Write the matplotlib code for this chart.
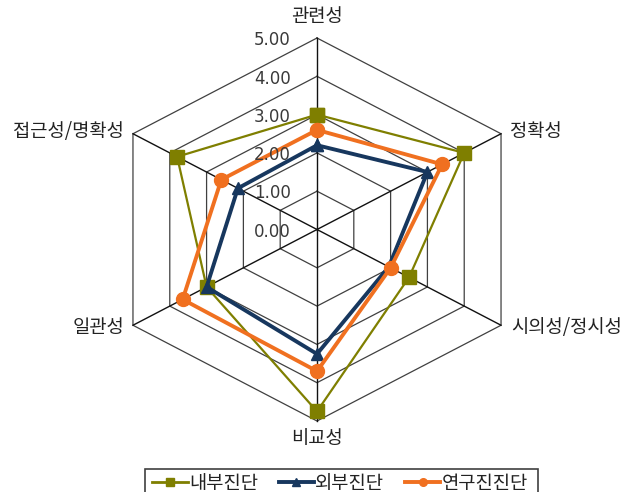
import numpy as np
import matplotlib
matplotlib.use("Agg")
import matplotlib.pyplot as plt
from matplotlib.lines import Line2D
from matplotlib.patches import Rectangle

plt.rcParams['font.family'] = ['Noto Sans CJK KR', 'DejaVu Sans']

categories = ['관련성', '정확성', '시의성/정시성', '비교성', '일관성', '접근성/명확성']
series_names = ['내부진단', '외부진단', '연구진진단']
internal = [3.0, 4.0, 2.5, 4.75, 3.0, 3.8]
external = [2.2, 3.0, 1.95, 3.25, 3.0, 2.15]
research = [2.6, 3.4, 2.0, 3.7, 3.65, 2.6]
tick_values = [0, 1, 2, 3, 4, 5]
tick_labels = ['0.00', '1.00', '2.00', '3.00', '4.00', '5.00']

colors = ['#7F7F00', '#17375E', '#F07020']
markers = ['s', '^', 'o']
msizes = [10.0, 9.0, 10.0]
lws = [1.6, 2.8, 2.8]

W, H = 625, 492
fig = plt.figure(figsize=(W / 100, H / 100), dpi=100)
ax = fig.add_axes([0, 0, 1, 1])
cx, cy = 317, 229.5
ux = 212.5 / 5   # px per unit horizontally
uy = 191.5 / 5   # px per unit vertically
ax.set_xlim(-cx / ux, (W - cx) / ux)
ax.set_ylim(-(H - cy) / uy, cy / uy)
ax.axis('off')

n = len(categories)
theta = np.arange(n) * 2 * np.pi / n
sx, sy = np.sin(theta), np.cos(theta)

# grid hexagons
for v in tick_values[1:]:
    ax.plot(np.append(v * sx, v * sx[0]), np.append(v * sy, v * sy[0]),
            color='#404040', lw=0.9, zorder=1)
# spokes
for i in range(n):
    ax.plot([0, 5 * sx[i]], [0, 5 * sy[i]], color='#111111', lw=1.0, zorder=1)

# series
for vals, c, m, ms, lw in zip([internal, external, research], colors, markers, msizes, lws):
    v = np.array(vals)
    ax.plot(np.append(v * sx, v[0] * sx[0]), np.append(v * sy, v[0] * sy[0]),
            color=c, lw=lw, marker=m, markersize=ms, markerfacecolor=c,
            markeredgecolor=c, zorder=3)

# tick labels along top axis
for v, t in zip(tick_values, tick_labels):
    ax.text(-0.62, v - 0.06, t, ha='right', va='center', fontsize=12,
            color='#3a3a3a', family='DejaVu Sans', zorder=5)

# category labels
lab_pos = [
    (0, 5.55, 'center', 'center'),
    (5 * sx[1] + 0.22, 5 * sy[1] + 0.05, 'left', 'center'),
    (5 * sx[2] + 0.25, 5 * sy[2] - 0.05, 'left', 'center'),
    (0, -5.45, 'center', 'center'),
    (5 * sx[4] - 0.2, 5 * sy[4] - 0.05, 'right', 'center'),
    (5 * sx[5] - 0.22, 5 * sy[5] + 0.05, 'right', 'center'),
]
for (x, y, ha, va), lab in zip(lab_pos, categories):
    ax.text(x, y, lab, ha=ha, va=va, fontsize=13.5, color='#222222')

# legend
handles = [Line2D([], [], color=c, lw=lw if lw > 2 else 2.0, marker=m, markersize=5.5,
                  markerfacecolor=c, markeredgecolor=c)
           for c, m, lw in zip(colors, markers, lws)]
leg = fig.legend(handles, series_names, loc='center', ncol=3,
                 bbox_to_anchor=(340 / W, 1 - 483 / H), frameon=False,
                 fontsize=13.5, handlelength=1.9, handletextpad=0.05,
                 columnspacing=1.1, labelcolor='#222222')
fig.patches.append(Rectangle((145 / W, -0.05), (538 - 145) / W, 0.05 + (1 - 469 / H),
                             transform=fig.transFigure, fill=False,
                             edgecolor='#404040', lw=1.2))

fig.savefig('out.png', dpi=100, facecolor='white')
